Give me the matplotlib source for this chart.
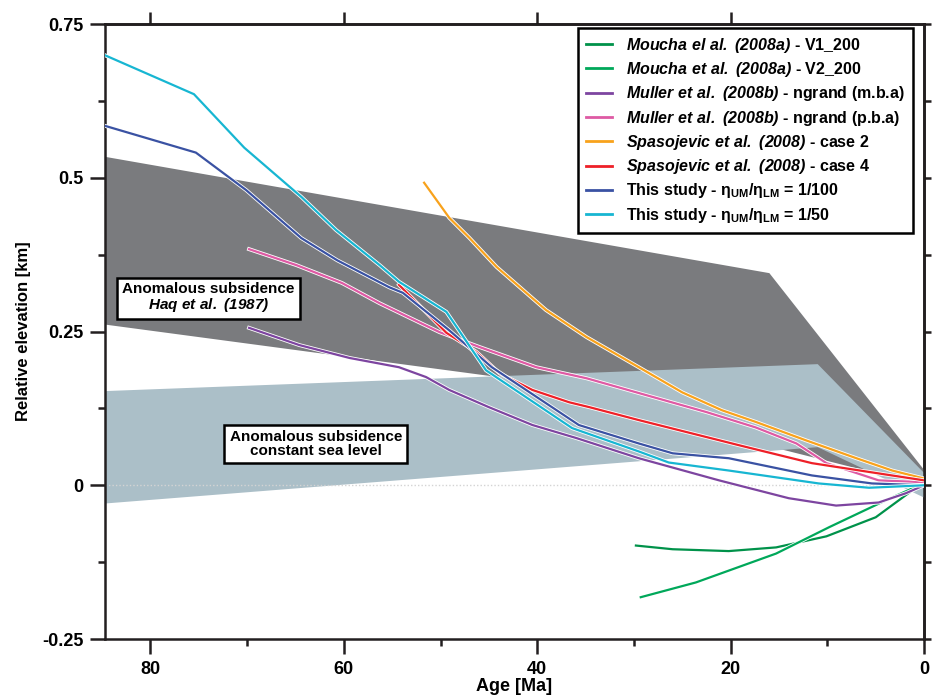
import numpy as np
import matplotlib
matplotlib.use("Agg")
import matplotlib.pyplot as plt
import matplotlib.patheffects as pe
from matplotlib.lines import Line2D
from matplotlib.ticker import MultipleLocator

plt.rcParams['font.family'] = ['Liberation Sans', 'DejaVu Sans']
plt.rcParams['font.weight'] = 'bold'
plt.rcParams['mathtext.fontset'] = 'custom'
plt.rcParams['mathtext.rm'] = 'Liberation Sans:bold'
plt.rcParams['mathtext.it'] = 'Liberation Sans:italic:bold'
plt.rcParams['mathtext.bf'] = 'Liberation Sans:bold'
# sf slot used for bold-italic author names (keeps digits italic too)
plt.rcParams['mathtext.sf'] = 'Liberation Sans:italic:bold'
plt.rcParams['mathtext.default'] = 'rm'

# model curves (age in Ma, relative elevation in km)
age_v1 = [29.8, 26.0, 20.2, 15.3, 10.1, 5.0, 0.5]
elev_v1 = [-0.098, -0.104, -0.107, -0.101, -0.083, -0.052, 0.0]
age_v2 = [29.3, 23.6, 15.3, 9.8, 3.9, 0.5]
elev_v2 = [-0.182, -0.158, -0.111, -0.068, -0.024, 0.0]
age_mba = [69.8, 64.6, 59.4, 54.3, 51.5, 49.1, 45.0, 40.5, 36.0, 29.5, 21.2, 14.0, 9.1, 4.7, 1.9, 0.0]
elev_mba = [0.256, 0.228, 0.207, 0.192, 0.176, 0.155, 0.127, 0.098, 0.077, 0.044, 0.008, -0.021, -0.033, -0.028, -0.013, 0.0]
age_pba = [69.8, 64.9, 60.2, 56.3, 50.1, 46.0, 40.1, 34.9, 29.5, 22.5, 17.4, 13.2, 10.1, 4.7, 0.0]
elev_pba = [0.384, 0.358, 0.329, 0.296, 0.249, 0.225, 0.192, 0.174, 0.150, 0.119, 0.094, 0.068, 0.036, 0.008, 0.005]
age_c2 = [51.7, 49.1, 47.0, 44.2, 39.1, 34.9, 29.5, 25.0, 20.9, 17.4, 12.2, 7.0, 3.3, 0.0]
elev_c2 = [0.492, 0.435, 0.402, 0.355, 0.285, 0.241, 0.192, 0.151, 0.122, 0.103, 0.073, 0.044, 0.024, 0.011]
age_c4 = [54.3, 49.4, 46.3, 43.9, 40.5, 36.7, 34.6, 29.5, 19.1, 11.6, 5.4, 0.0]
elev_c4 = [0.326, 0.248, 0.217, 0.182, 0.155, 0.135, 0.127, 0.106, 0.065, 0.036, 0.021, 0.008]
age_100 = [84.8, 75.3, 70.1, 64.4, 60.7, 55.3, 53.9, 49.1, 44.7, 35.7, 29.5, 26.0, 20.2, 11.6, 5.4, 0.0]
elev_100 = [0.585, 0.541, 0.480, 0.402, 0.366, 0.322, 0.313, 0.252, 0.192, 0.098, 0.068, 0.052, 0.044, 0.016, 0.003, 0.0]
age_50 = [84.8, 75.5, 70.3, 64.4, 60.8, 56.3, 54.3, 49.4, 45.3, 36.4, 29.5, 26.4, 20.2, 10.9, 5.7, 0.0]
elev_50 = [0.700, 0.636, 0.549, 0.469, 0.415, 0.358, 0.331, 0.282, 0.187, 0.093, 0.055, 0.037, 0.024, 0.003, -0.004, 0.0]

# anomalous subsidence envelopes
haq_top_age = [85, 16, 0]
haq_top = [0.535, 0.345, 0.025]
haq_bot_age = [85, 45, 0]
haq_bot = [0.262, 0.178, 0.0]
csl_top_age = [85, 11, 0]
csl_top = [0.153, 0.197, 0.02]
csl_bot_age = [85, 11, 0]
csl_bot = [-0.03, 0.062, -0.02]

series = [
    (age_v1, elev_v1, '#00924a', r"$\mathsf{Moucha\ el\ al.\ (2008a)}$ - V1_200"),
    (age_v2, elev_v2, '#00a85a', r"$\mathsf{Moucha\ et\ al.\ (2008a)}$ - V2_200"),
    (age_mba, elev_mba, '#7d45a0', r"$\mathsf{Muller\ et\ al.\ (2008b)}$ - ngrand (m.b.a)"),
    (age_pba, elev_pba, '#de5aa4', r"$\mathsf{Muller\ et\ al.\ (2008b)}$ - ngrand (p.b.a)"),
    (age_c2, elev_c2, '#f8a21c', r"$\mathsf{Spasojevic\ et\ al.\ (2008)}$ - case 2"),
    (age_c4, elev_c4, '#ee2028', r"$\mathsf{Spasojevic\ et\ al.\ (2008)}$ - case 4"),
    (age_100, elev_100, '#3a52a3', r"This study - $\eta_{UM}/\eta_{LM}$ = 1/100"),
    (age_50, elev_50, '#17b6d2', r"This study - $\eta_{UM}/\eta_{LM}$ = 1/50"),
]

fig = plt.figure(figsize=(9.34, 6.98), dpi=100)
ax = fig.add_axes([0.1124, 0.0845, 0.877, 0.881])

ax.fill(haq_top_age + haq_bot_age[::-1], haq_top + haq_bot[::-1],
        color='#7a7b7e', lw=0, zorder=1)
ax.fill(csl_top_age + csl_bot_age[::-1], csl_top + csl_bot[::-1],
        color='#abbfc8', lw=0, zorder=1.5)
ax.axhline(0, color='#d4d4d4', lw=1, ls=(0, (1, 1.5)), zorder=2)

halo = [pe.withStroke(linewidth=2.8, foreground='white')]
for a, e, c, lab in series:
    ax.plot(a, e, color=c, lw=1.6, path_effects=halo, zorder=3, solid_joinstyle='miter')

ax.set_xlim(84.7, 0)
ax.set_ylim(-0.25, 0.75)

ax.xaxis.set_major_locator(MultipleLocator(20))
ax.xaxis.set_minor_locator(MultipleLocator(10))
ax.yaxis.set_minor_locator(MultipleLocator(0.125))
ax.set_yticks([-0.25, 0, 0.25, 0.5, 0.75])
ax.set_yticklabels(['-0.25', '0', '0.25', '0.5', '0.75'])

ink = '#231f20'
for s in ax.spines.values():
    s.set_linewidth(1.8)
    s.set_color(ink)
ax.tick_params(which='major', direction='out', length=10.5, width=1.8, color=ink,
               labelsize=13, pad=5)
ax.tick_params(which='minor', direction='out', length=5, width=1.8, color=ink)

top = ax.secondary_xaxis('top')
top.set_xticks([80, 60, 40, 20])
top.tick_params(direction='out', length=9, width=1.8, color=ink, labeltop=False)
top.spines['top'].set_linewidth(1.8)
right = ax.secondary_yaxis('right')
right.set_yticks(np.arange(-0.25, 0.76, 0.125))
right.tick_params(direction='out', length=5, width=1.8, color=ink, labelright=False)
right.spines['right'].set_linewidth(1.8)

ax.set_xlabel('Age [Ma]', fontsize=13, fontweight='bold', labelpad=0)
ax.set_ylabel('Relative elevation [km]', fontsize=12, fontweight='bold', labelpad=8)

handles = [Line2D([], [], color=c, lw=2) for _, _, c, _ in series]
labels = [lab for _, _, _, lab in series]
leg = ax.legend(handles, labels, loc='upper right', bbox_to_anchor=(0.986, 0.994),
                fontsize=11.5, frameon=True, fancybox=False, edgecolor='black',
                framealpha=1, handlelength=1.6, handletextpad=0.9,
                labelspacing=0.33, borderpad=0.5, borderaxespad=0)
leg.get_frame().set_linewidth(1.8)
leg.set_zorder(5)

box = dict(boxstyle='square,pad=0.35', fc='white', ec='black', lw=1.8)
ax.text(74.0, 0.305, "Anomalous subsidence\n" + r"$\mathsf{Haq\ et\ al.\ (1987)}$",
        ha='center', va='center', fontsize=11, fontweight='bold',
        linespacing=1.0, bbox=box, zorder=6)
ax.text(62.9, 0.067, "Anomalous subsidence\nconstant sea level",
        ha='center', va='center', fontsize=11, fontweight='bold',
        linespacing=1.0, bbox=box, zorder=6)

fig.savefig('out.png', dpi=100)
